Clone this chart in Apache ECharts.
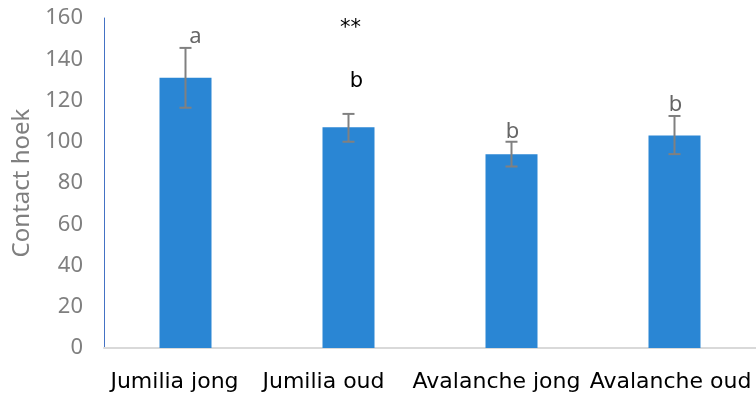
<!DOCTYPE html>
<html><head><meta charset="utf-8">
<script src="https://cdn.jsdelivr.net/npm/echarts@6/dist/echarts.min.js"></script>
<style>html,body{margin:0;padding:0;background:#fff}#c{width:756px;height:396px}</style>
</head><body><div id="c"></div>
<script>
const categories = ["Jumilia jong", "Jumilia oud", "Avalanche jong", "Avalanche oud"];
const means = [131, 107, 94, 103];
const errLow = [116.5, 100, 88, 94];
const errHigh = [145.5, 113.5, 100, 112.5];
const yTicks = [0, 20, 40, 60, 80, 100, 120, 140, 160];
// annotations: [categoryIndex, value, text, colour key, dx]
const annotations = [
  [0, 151, "a", "gray", 10],
  [1, 155, "**", "black", 2],
  [1, 129, "b", "black", 8],
  [2, 105, "b", "gray", 1],
  [3, 118, "b", "gray", 1]
];

const chart = echarts.init(document.getElementById('c'));
const VER = 'DejaVu Sans';
const SANS = 'Noto Sans';
// per-label right padding (px) to reproduce the reference's label placement
const labelPad = [22, 50, 30, 8];
const rich = {};
labelPad.forEach((p, i) => { rich['l' + i] = {padding: [0, p, 0, 0], color: '#000', fontSize: 22, fontFamily: VER}; });
chart.setOption({
  animation: false,
  grid: {left: 104, width: 653, top: 18, bottom: 48},
  xAxis: {
    type: 'category', data: categories,
    axisLine: {lineStyle: {color: '#d9d9d9', width: 2}},
    axisTick: {show: false},
    axisLabel: {color: '#000', fontSize: 22, fontFamily: VER, margin: 23, interval: 0,
      formatter: (v, i) => '{l' + i + '|' + v + '}', rich: rich}
  },
  yAxis: {
    type: 'value', min: yTicks[0], max: yTicks[yTicks.length-1], interval: 20,
    name: 'Contact hoek', nameLocation: 'middle', nameGap: 70, nameRotate: 90,
    nameTextStyle: {color: '#7f7f7f', fontSize: 24, fontFamily: SANS},
    axisLine: {show: true, lineStyle: {color: '#4472c4', width: 1}},
    axisTick: {show: false},
    splitLine: {show: false},
    axisLabel: {color: '#7f7f7f', fontSize: 22, fontFamily: SANS, margin: 21}
  },
  series: [
    {type: 'bar', data: means, barWidth: 52, itemStyle: {color: '#2a86d4'}},
    {type: 'custom', data: categories.map((c, i) => [i, errLow[i], errHigh[i]]),
     renderItem: function(params, api) {
       const lo = api.coord([api.value(0), api.value(1)]);
       const hi = api.coord([api.value(0), api.value(2)]);
       const x = lo[0], w = 6;
       const st = {stroke: '#808080', lineWidth: 2};
       return {type: 'group', children: [
         {type: 'line', shape: {x1: x, y1: lo[1], x2: x, y2: hi[1]}, style: st},
         {type: 'line', shape: {x1: x - w, y1: lo[1], x2: x + w, y2: lo[1]}, style: st},
         {type: 'line', shape: {x1: x - w, y1: hi[1], x2: x + w, y2: hi[1]}, style: st}
       ]};
     }, z: 5},
    {type: 'custom', data: annotations.map(a => [a[0], a[1]]),
     renderItem: function(params, api) {
       const a = annotations[params.dataIndex];
       const p = api.coord([api.value(0), api.value(1)]);
       const black = a[3] === 'black';
       return {type: 'text', x: p[0] + a[4], y: p[1], style: {
         text: a[2], fill: black ? '#000' : '#666',
         font: black ? ('21px ' + VER) : ('22px ' + SANS),
         textAlign: 'center', textVerticalAlign: 'middle'}};
     }, z: 6}
  ]
});
</script></body></html>
